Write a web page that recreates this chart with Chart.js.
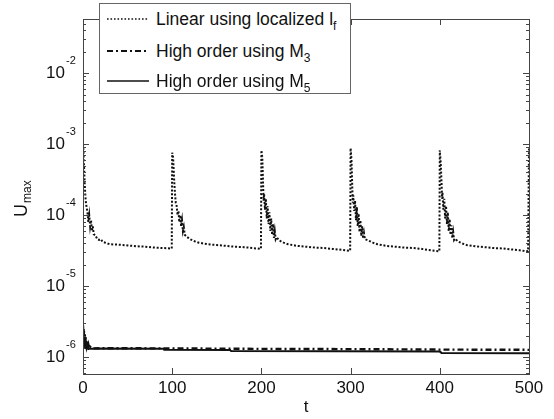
<!DOCTYPE html>
<html>
<head>
<meta charset="utf-8">
<script src="https://cdn.jsdelivr.net/npm/chart.js@4.4.1/dist/chart.umd.min.js"></script>
<style>
  html, body { margin: 0; padding: 0; background: #fff; }
  #wrap { position: relative; width: 554px; height: 419px; }
  #legend {
    position: absolute; left: 99px; top: 3px; width: 252px; height: 91px;
    background: #fff; border: 1px solid #666; box-sizing: border-box;
    font-family: "Liberation Sans", Arial, sans-serif; font-size: 17.5px; color: #111;
  }
  .row { position: absolute; left: 7px; height: 20px; display: flex; align-items: center; white-space: nowrap; }
  .row svg { width: 42px; height: 6px; margin-right: 7px; }
  sub { font-size: 12px; vertical-align: -5px; line-height: 0; }
</style>
</head>
<body>
<div id="wrap">
  <canvas id="chart" width="554" height="419"></canvas>
  <div id="legend">
    <div class="row" style="top:5px">
      <svg><line x1="0" y1="3" x2="42" y2="3" stroke="#111" stroke-width="1.6" stroke-dasharray="1.6 1.9"/></svg>
      <span>Linear using localized l<sub>f</sub></span>
    </div>
    <div class="row" style="top:37px">
      <svg><line x1="0" y1="3" x2="42" y2="3" stroke="#111" stroke-width="2.2" stroke-dasharray="6 3 2 3"/></svg>
      <span>High order using M<sub>3</sub></span>
    </div>
    <div class="row" style="top:67px">
      <svg><line x1="0" y1="3" x2="42" y2="3" stroke="#111" stroke-width="1.5"/></svg>
      <span>High order using M<sub>5</sub></span>
    </div>
  </div>
</div>
<script>
// --- data ---
const tLinear = [0, 0.5, 1, 2, 3, 4, 5, 6, 7, 8, 9, 10, 11, 12, 14, 16, 18, 20, 22, 25, 30, 40, 50, 60, 70, 80, 90, 99.5,
  100, 101, 102, 103, 104, 105, 106, 107, 108, 109, 110, 111, 112, 113, 114, 116, 118, 120, 125, 130, 140, 150, 160, 170, 180, 190, 199.5,
  200, 201, 202, 202.5, 203, 204, 205, 206, 207, 208, 209, 210, 211, 212, 213, 214, 215, 216, 217, 220, 225, 230, 240, 250, 260, 270, 280, 290, 299.5,
  300, 301, 302, 302.5, 303, 304, 305, 306, 307, 308, 309, 310, 311, 312, 313, 314, 315, 316, 320, 325, 330, 340, 350, 360, 370, 380, 390, 399.5,
  400, 401, 402, 402.5, 403, 404, 405, 406, 407, 408, 409, 410, 411, 412, 413, 414, 415, 416, 417, 420, 425, 430, 440, 450, 460, 470, 480, 490, 499, 500];
const uLinear = [1.0e-3, 8e-4, 5.5e-4, 2.6e-4, 1.6e-4, 1.3e-4, 1.1e-4, 8e-5, 1.0e-4, 7e-5, 8.5e-5, 6e-5, 7e-5, 5.4e-5, 5.2e-5, 4.6e-5, 4.5e-5, 4.6e-5, 4.2e-5, 4.1e-5, 3.9e-5, 3.85e-5, 3.75e-5, 3.65e-5, 3.6e-5, 3.5e-5, 3.45e-5, 3.4e-5,
  7.6e-4, 6.5e-4, 3.5e-4, 2.1e-4, 1.5e-4, 1.35e-4, 1.0e-4, 1.15e-4, 8e-5, 1.0e-4, 7e-5, 8.5e-5, 6e-5, 6.8e-5, 5.3e-5, 5.0e-5, 4.8e-5, 4.6e-5, 4.3e-5, 4.1e-5, 3.9e-5, 3.8e-5, 3.7e-5, 3.6e-5, 3.55e-5, 3.45e-5, 3.35e-5,
  8.2e-4, 6.5e-4, 2.5e-4, 1.6e-4, 2.0e-4, 1.2e-4, 1.7e-4, 9e-5, 1.35e-4, 7.5e-5, 1.1e-4, 6e-5, 9e-5, 5.3e-5, 7.5e-5, 4.8e-5, 6e-5, 4.6e-5, 4.9e-5, 4.4e-5, 4.1e-5, 3.9e-5, 3.7e-5, 3.6e-5, 3.5e-5, 3.45e-5, 3.35e-5, 3.25e-5, 3.15e-5,
  8.8e-4, 6e-4, 2.2e-4, 1.5e-4, 1.9e-4, 1.15e-4, 1.6e-4, 8.5e-5, 1.3e-4, 7e-5, 1.05e-4, 5.8e-5, 8.5e-5, 5.1e-5, 7e-5, 4.7e-5, 5.6e-5, 4.6e-5, 4.4e-5, 4.1e-5, 3.9e-5, 3.7e-5, 3.6e-5, 3.5e-5, 3.45e-5, 3.35e-5, 3.2e-5, 3.1e-5,
  8.2e-4, 5.5e-4, 2.8e-4, 1.7e-4, 2.1e-4, 1.2e-4, 1.7e-4, 9e-5, 1.35e-4, 7.5e-5, 1.1e-4, 6e-5, 8.8e-5, 5.3e-5, 7.2e-5, 4.8e-5, 5.8e-5, 4.5e-5, 4.7e-5, 4.3e-5, 4.0e-5, 3.8e-5, 3.65e-5, 3.55e-5, 3.45e-5, 3.4e-5, 3.3e-5, 3.2e-5, 3.1e-5, 8.8e-4];

const tM3 = [0, 0.5, 1, 1.5, 2, 2.5, 3, 3.5, 4, 5, 6, 7, 8, 10, 20, 100, 200, 300, 400, 500];
const uM3 = [2.8e-6, 1.8e-6, 2.4e-6, 1.6e-6, 2.1e-6, 1.5e-6, 1.9e-6, 1.4e-6, 1.7e-6, 1.35e-6, 1.5e-6, 1.3e-6, 1.4e-6, 1.33e-6, 1.34e-6, 1.33e-6, 1.31e-6, 1.3e-6, 1.28e-6, 1.27e-6];

const tM5 = [0, 0.5, 1, 1.5, 2, 2.5, 3, 4, 5, 6, 8, 20, 90, 91, 165, 166, 400, 402, 500];
const uM5 = [2.5e-6, 1.5e-6, 2.2e-6, 1.4e-6, 1.9e-6, 1.35e-6, 1.7e-6, 1.35e-6, 1.5e-6, 1.3e-6, 1.32e-6, 1.33e-6, 1.32e-6, 1.27e-6, 1.26e-6, 1.22e-6, 1.2e-6, 1.15e-6, 1.14e-6];

const xTicks = [0, 100, 200, 300, 400, 500];
const yDecades = [-6, -5, -4, -3, -2];
const yMin = 5.8e-7, yMax = 5.8e-2;

function pts(ts, us) {
  return ts.map((t, i) => ({ x: t, y: us[i] }));
}

const FONT = '"Liberation Sans", Arial, sans-serif';

// frame, inward ticks, tick labels, axis titles
const frame = {
  id: "frame",
  afterDraw(chart) {
    const { ctx, chartArea: a } = chart;
    const xs = chart.scales.x, ys = chart.scales.y;
    ctx.save();
    ctx.strokeStyle = "#444";
    ctx.lineWidth = 1;
    ctx.strokeRect(a.left + 0.5, a.top + 0.5, a.right - a.left, a.bottom - a.top);

    ctx.beginPath();
    for (let n = -7; n <= -1; n++) {
      for (let k = 1; k <= 9; k++) {
        const v = k * Math.pow(10, n);
        if (v < yMin || v > yMax) continue;
        const py = Math.round(ys.getPixelForValue(v)) + 0.5;
        const len = k === 1 ? 6 : 3;
        ctx.moveTo(a.left, py); ctx.lineTo(a.left + len, py);
        ctx.moveTo(a.right, py); ctx.lineTo(a.right - len, py);
      }
    }
    xTicks.forEach(t => {
      const px = Math.round(xs.getPixelForValue(t)) + 0.5;
      ctx.moveTo(px, a.bottom); ctx.lineTo(px, a.bottom - 6);
      ctx.moveTo(px, a.top); ctx.lineTo(px, a.top + 6);
    });
    ctx.stroke();

    ctx.fillStyle = "#111";
    ctx.textBaseline = "middle";
    yDecades.forEach(n => {
      const py = ys.getPixelForValue(Math.pow(10, n));
      ctx.font = "17px " + FONT;
      ctx.textAlign = "right";
      ctx.fillText("10", 65, py);
      ctx.font = "11px " + FONT;
      ctx.textAlign = "left";
      ctx.fillText(String(n), 66, py - 12);
    });

    ctx.font = "17px " + FONT;
    ctx.textAlign = "center";
    xTicks.forEach(t => {
      ctx.fillText(String(t), xs.getPixelForValue(t), 388);
    });
    ctx.fillText("t", (a.left + a.right) / 2, 407);

    ctx.translate(22, 197);
    ctx.rotate(-Math.PI / 2);
    ctx.textAlign = "left";
    ctx.font = "18px " + FONT;
    ctx.fillText("U", -20, 0);
    ctx.font = "12px " + FONT;
    ctx.fillText("max", -6, 6);
    ctx.restore();
  }
};

new Chart(document.getElementById("chart"), {
  type: "line",
  data: {
    datasets: [
      {
        label: "Linear using localized lf",
        data: pts(tLinear, uLinear),
        borderColor: "#111",
        borderWidth: 2,
        borderDash: [2, 1.8],
        pointRadius: 0,
        tension: 0
      },
      {
        label: "High order using M3",
        data: pts(tM3, uM3),
        borderColor: "#111",
        borderWidth: 2.4,
        borderDash: [6, 3, 2, 3],
        pointRadius: 0,
        tension: 0
      },
      {
        label: "High order using M5",
        data: pts(tM5, uM5),
        borderColor: "#111",
        borderWidth: 2,
        pointRadius: 0,
        tension: 0
      }
    ]
  },
  options: {
    responsive: false,
    animation: false,
    layout: { padding: { left: 83, top: 19, right: 25, bottom: 45 } },
    scales: {
      x: { type: "linear", min: 0, max: 500, display: false },
      y: { type: "logarithmic", min: yMin, max: yMax, display: false }
    },
    plugins: { legend: { display: false }, tooltip: { enabled: false } }
  },
  plugins: [frame]
});
</script>
</body>
</html>
